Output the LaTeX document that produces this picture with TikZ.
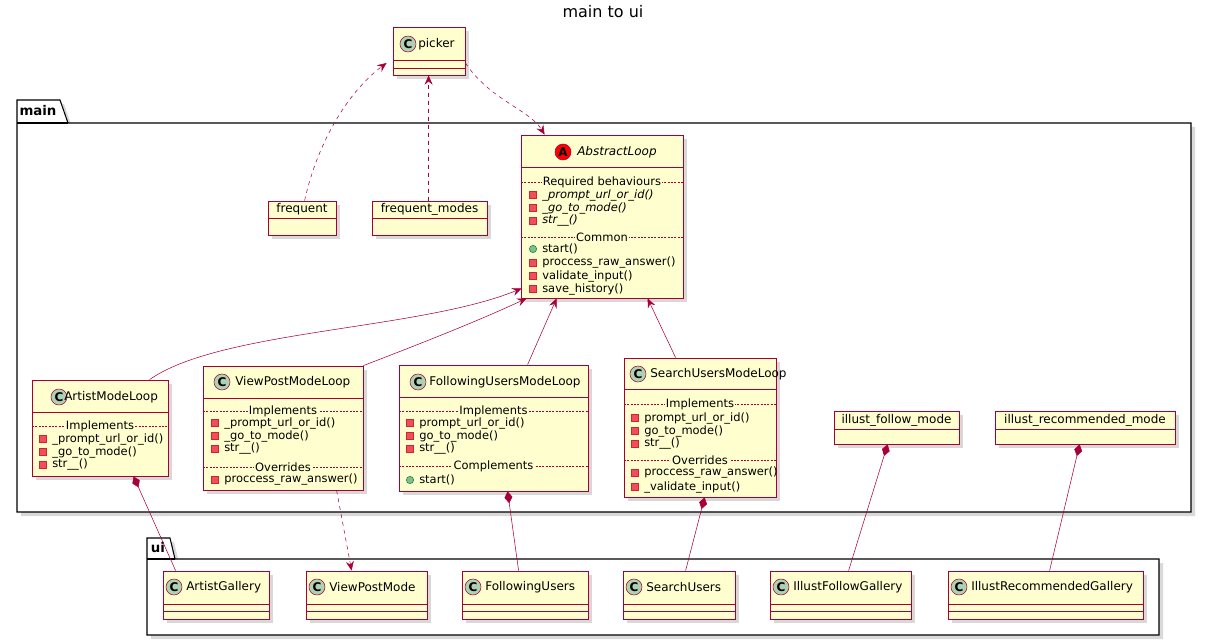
\documentclass[tikz,border=0pt]{standalone}
\usepackage{fontspec}
\setmainfont{DejaVu Sans}
\usetikzlibrary{arrows.meta,shadows,fit,calc}

\definecolor{umlborder}{HTML}{A80036}
\definecolor{umlfill}{HTML}{FEFECE}
\definecolor{iconC}{HTML}{ADD1B2}
\definecolor{privfill}{HTML}{F24D5C}
\definecolor{privline}{HTML}{C82930}
\definecolor{pubfill}{HTML}{84BE84}
\definecolor{publine}{HTML}{038048}

\tikzset{
  cls/.style={draw=umlborder, fill=umlfill, semithick, inner sep=0pt,
    drop shadow={shadow xshift=3pt, shadow yshift=-3pt, opacity=0.3}},
  pkg/.style={draw=black, fill=white, thick,
    drop shadow={shadow xshift=3pt, shadow yshift=-3pt, opacity=0.3}},
  ttl/.style={font=\fontsize{9}{10}\selectfont, anchor=west, inner sep=0pt},
  mem/.style={font=\fontsize{8.6}{9}\selectfont, anchor=west, inner sep=0pt},
  sep/.style={draw=umlborder, dash pattern=on 1.5pt off 1pt, very thin},
  seplbl/.style={font=\fontsize{8.6}{9}\selectfont, fill=umlfill, inner sep=1pt},
  gen/.style={draw=umlborder, thin, -{Stealth[length=7pt,width=6pt,inset=2.5pt]}},
  dep/.style={gen, dashed},
  comp/.style={draw=umlborder, thin, {Diamond[length=9pt,width=6pt]}-}
}

% icon in the header of a class
\newcommand\cicon[3]{\node[circle, draw=umlborder, fill=#3, minimum size=12pt,
  inner sep=0pt, font=\bfseries\fontsize{9}{9}\selectfont] at (#1) {#2};}
% private / public members
\newcommand\priv[3]{\node[draw=privline, fill=privfill, minimum size=5pt, inner sep=0pt] at (#1,#2) {};
  \node[mem] at ($(#1,#2)+(9,0)$) {#3};}
\newcommand\pub[3]{\node[circle, draw=publine, fill=pubfill, minimum size=5.5pt, inner sep=0pt] at (#1,#2) {};
  \node[mem] at ($(#1,#2)+(9,0)$) {#3};}
% dashed separator with its label
\newcommand\msep[4]{\draw[sep] (#1,#3) -- (#2,#3);
  \node[seplbl] at ({(#1+#2)/2},#3) {#4};}

\begin{document}
\begin{tikzpicture}[x=0.75pt, y=-0.75pt]
\useasboundingbox (0,0) rectangle (1207,641);

\node[font=\fontsize{12}{13}\selectfont] (title) at (603,12) {main to ui};

% packages
\draw[pkg] (17,100) -- (60,100) -- (68,123) -- (1191,123) -- (1191,512) -- (17,512) -- cycle;
\draw[thick] (17,123) -- (68,123);
\node[font=\bfseries\fontsize{10}{11}\selectfont] (mainpkg) at (38,111) {main};
\draw[pkg] (147,538) -- (170,538) -- (175,559) -- (1159,559) -- (1159,635) -- (147,635) -- cycle;
\draw[thick] (147,559) -- (175,559);
\node[font=\bfseries\fontsize{10}{11}\selectfont] (uipkg) at (158,548) {ui};

% picker
\node[cls, fit={(393,27)(465,75)}] (picker) {};
\draw[umlborder, semithick] (393,60) -- (465,60) (393,68) -- (465,68);
\cicon{408,44}{C}{iconC}
\node[ttl] at (418,44) {picker};

% plain modules
\node[cls, fit={(268,201)(336,235)}] (frequent) {};
\draw[umlborder, semithick] (268,218) -- (336,218);
\node[ttl, anchor=center] at (302,209) {frequent};
\node[cls, fit={(372,201)(487,235)}] (freqmodes) {};
\draw[umlborder, semithick] (372,218) -- (487,218);
\node[ttl, anchor=center] at (429.5,209) {frequent\_modes};
\node[cls, fit={(834,411)(959,444)}] (followmode) {};
\draw[umlborder, semithick] (834,429) -- (959,429);
\node[ttl, anchor=center] at (896.5,420) {illust\_follow\_mode};
\node[cls, fit={(995,411)(1175,444)}] (recmode) {};
\draw[umlborder, semithick] (995,429) -- (1175,429);
\node[ttl, anchor=center] at (1085,420) {illust\_recommended\_mode};

% AbstractLoop
\node[cls, fit={(521,135)(683,298)}] (abs) {};
\draw[umlborder, semithick] (521,167) -- (683,167);
\cicon{563,152}{A}{red}
\node[ttl, font=\itshape\fontsize{9}{10}\selectfont] at (577,152) {AbstractLoop};
\msep{521}{683}{182}{Required behaviours}
\priv{533}{195}{\itshape \_prompt\_url\_or\_id()}
\priv{533}{208}{\itshape \_go\_to\_mode()}
\priv{533}{221}{\itshape str\_\_()}
\msep{521}{683}{237}{Common}
\pub{533}{249}{start()}
\priv{533}{263}{proccess\_raw\_answer()}
\priv{533}{276}{validate\_input()}
\priv{533}{289}{save\_history()}

% ArtistModeLoop
\node[cls, fit={(32,380)(168,476)}] (artist) {};
\draw[umlborder, semithick] (32,412) -- (168,412);
\cicon{59,397}{C}{iconC}
\node[ttl] at (64,397) {ArtistModeLoop};
\msep{32}{168}{426}{Implements}
\priv{43}{439}{\_prompt\_url\_or\_id()}
\priv{43}{452}{\_go\_to\_mode()}
\priv{43}{465}{str\_\_()}

% ViewPostModeLoop
\node[cls, fit={(203,366)(363,490)}] (viewpost) {};
\draw[umlborder, semithick] (203,398) -- (363,398);
\cicon{222,382}{C}{iconC}
\node[ttl] at (235,382) {ViewPostModeLoop};
\msep{203}{363}{411}{Implements}
\priv{215}{423}{\_prompt\_url\_or\_id()}
\priv{215}{436}{\_go\_to\_mode()}
\priv{215}{449}{str\_\_()}
\msep{203}{363}{467}{Overrides}
\priv{215}{480}{proccess\_raw\_answer()}

% FollowingUsersModeLoop
\node[cls, fit={(399,365)(588,491)}] (following) {};
\draw[umlborder, semithick] (399,397) -- (588,397);
\cicon{418,382}{C}{iconC}
\node[ttl] at (429,382) {FollowingUsersModeLoop};
\msep{399}{588}{411}{Implements}
\priv{410}{423}{prompt\_url\_or\_id()}
\priv{410}{436}{go\_to\_mode()}
\priv{410}{449}{str\_\_()}
\msep{399}{588}{466}{Complements}
\pub{410}{480}{start()}

% SearchUsersModeLoop
\node[cls, fit={(624,358)(776,497)}] (search) {};
\draw[umlborder, semithick] (624,389) -- (776,389);
\cicon{638,374}{C}{iconC}
\node[ttl] at (650,374) {SearchUsersModeLoop};
\msep{624}{776}{404}{Implements}
\priv{635}{418}{prompt\_url\_or\_id()}
\priv{635}{431}{go\_to\_mode()}
\priv{635}{444}{str\_\_()}
\msep{624}{776}{460}{Overrides}
\priv{635}{473}{proccess\_raw\_answer()}
\priv{635}{487}{\_validate\_input()}

% ui classes
\foreach \nm/\xa/\xb/\txt in {agal/163/269/ArtistGallery, vpm/306/427/ViewPostMode,
    fusers/462/588/FollowingUsers, susers/623/735/SearchUsers,
    ifgal/770/911/IllustFollowGallery, irgal/948/1143/IllustRecommendedGallery}{
  \node[cls, fit={(\xa,571)(\xb,619)}] (\nm) {};
  \draw[umlborder, semithick] (\xa,604) -- (\xb,604) (\xa,611) -- (\xb,611);
  \cicon{\xa+11,587}{C}{iconC}
  \node[ttl] at (\xa+23,587) {\txt};
}

% dependencies around picker
\draw[dep] ($(frequent.north west)+(37,0)$) .. controls (318,140) and (350,90) .. ($(picker.west)+(-6,12)$);
\draw[dep] ($(freqmodes.north west)+(57,0)$) -- ($(picker.south west)+(36,0)$);
\draw[dep] ($(picker.east)+(0,12)$) .. controls (490,100) and (530,110) .. ($(abs.north west)+(24,0)$);

% generalisations
\draw[gen] ($(artist.north west)+(118,0)$) .. controls (220,330) and (420,330) .. ($(abs.south west)+(1,-10)$);
\draw[gen] ($(viewpost.north east)+(0,0)$) .. controls (430,340) and (480,320) .. ($(abs.south west)+(6,0)$);
\draw[gen] ($(following.north west)+(129,0)$) -- ($(abs.south west)+(36,0)$);
\draw[gen] ($(search.north west)+(52,0)$) -- ($(abs.south west)+(127,0)$);

% compositions
\draw[comp] ($(artist.south west)+(102,0)$) -- ($(agal.north west)+(13,0)$);
\draw[dep] ($(viewpost.south west)+(134,0)$) -- ($(vpm.north west)+(46,0)$);
\draw[comp] ($(following.south west)+(109,0)$) -- ($(fusers.north west)+(57,0)$);
\draw[comp] ($(search.south west)+(81,0)$) -- ($(susers.north west)+(63,0)$);
\draw[comp] ($(followmode.south west)+(54,0)$) -- ($(ifgal.north west)+(79,0)$);
\draw[comp] ($(recmode.south west)+(85,0)$) -- ($(irgal.north west)+(102,0)$);
\end{tikzpicture}
\end{document}
